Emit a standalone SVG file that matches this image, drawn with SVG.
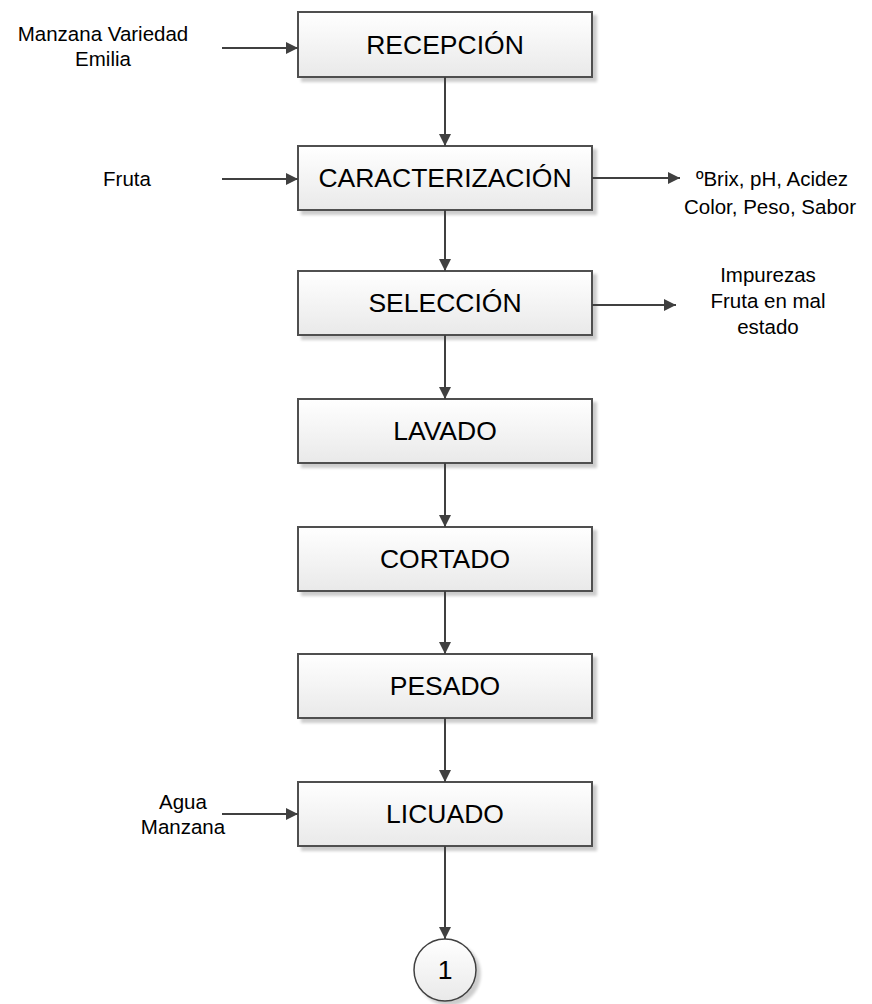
<svg xmlns="http://www.w3.org/2000/svg" width="872" height="1004" viewBox="0 0 872 1004">
  <defs>
    <linearGradient id="boxFill" x1="0" y1="0" x2="0" y2="1">
      <stop offset="0" stop-color="#ffffff"/>
      <stop offset="1" stop-color="#e9e9e9"/>
    </linearGradient>
    <filter id="shadow" x="-10%" y="-10%" width="130%" height="140%">
      <feGaussianBlur in="SourceAlpha" stdDeviation="1.5"/>
      <feOffset dx="4" dy="4" result="off"/>
      <feComponentTransfer><feFuncA type="linear" slope="0.2"/></feComponentTransfer>
      <feMerge><feMergeNode/><feMergeNode in="SourceGraphic"/></feMerge>
    </filter>
    <marker id="arrow" viewBox="0 0 12 12" refX="12" refY="6" markerWidth="12" markerHeight="12" markerUnits="userSpaceOnUse" orient="auto">
      <path d="M0,0 L12,6 L0,12 z" fill="#404040"/>
    </marker>
    <style>
      .box { fill: url(#boxFill); stroke: #505050; stroke-width: 2; filter: url(#shadow); }
      .step { font-family: "Liberation Sans", Arial, sans-serif; font-size: 26.5px; fill: #000; text-anchor: middle; }
      .side { font-family: "Liberation Sans", Arial, sans-serif; font-size: 20.5px; fill: #000; text-anchor: middle; }
      .flow { stroke: #404040; stroke-width: 2; fill: none; marker-end: url(#arrow); }
    </style>
  </defs>

  <rect width="872" height="1004" fill="#ffffff"/>

  <!-- process steps -->
  <g id="recepcion">
    <rect class="box" x="298" y="12" width="294" height="65"/>
    <text class="step" x="445" y="54">RECEPCIÓN</text>
  </g>
  <g id="caracterizacion">
    <rect class="box" x="298" y="146" width="294" height="64"/>
    <text class="step" x="445" y="187">CARACTERIZACIÓN</text>
  </g>
  <g id="seleccion">
    <rect class="box" x="298" y="271" width="294" height="64"/>
    <text class="step" x="445" y="312">SELECCIÓN</text>
  </g>
  <g id="lavado">
    <rect class="box" x="298" y="399" width="294" height="64"/>
    <text class="step" x="445" y="440">LAVADO</text>
  </g>
  <g id="cortado">
    <rect class="box" x="298" y="527" width="294" height="64"/>
    <text class="step" x="445" y="568">CORTADO</text>
  </g>
  <g id="pesado">
    <rect class="box" x="298" y="654" width="294" height="64"/>
    <text class="step" x="445" y="695">PESADO</text>
  </g>
  <g id="licuado">
    <rect class="box" x="298" y="782" width="294" height="64"/>
    <text class="step" x="445" y="823">LICUADO</text>
  </g>
  <g id="conector-1">
    <circle cx="445" cy="970" r="31" fill="url(#boxFill)" stroke="#404040" stroke-width="1.5" filter="url(#shadow)"/>
    <text class="step" x="445" y="979">1</text>
  </g>

  <!-- inputs and outputs -->
  <g id="in-manzana">
    <text class="side" x="103" y="41">Manzana Variedad</text>
    <text class="side" x="103" y="66">Emilia</text>
  </g>
  <g id="in-fruta">
    <text class="side" x="127" y="186">Fruta</text>
  </g>
  <g id="out-parametros">
    <text class="side" x="772" y="186">ºBrix, pH, Acidez</text>
    <text class="side" x="770" y="214">Color, Peso, Sabor</text>
  </g>
  <g id="out-impurezas">
    <text class="side" x="768" y="282">Impurezas</text>
    <text class="side" x="768" y="308">Fruta en mal</text>
    <text class="side" x="768" y="334">estado</text>
  </g>
  <g id="in-agua">
    <text class="side" x="183" y="809">Agua</text>
    <text class="side" x="183" y="834">Manzana</text>
  </g>

  <!-- connectors -->
  <g id="connectors">
    <line class="flow" x1="222" y1="48" x2="298" y2="48"/>
    <line class="flow" x1="445" y1="77" x2="445" y2="146"/>
    <line class="flow" x1="222" y1="179" x2="298" y2="179"/>
    <line class="flow" x1="592" y1="178" x2="680" y2="178"/>
    <line class="flow" x1="445" y1="210" x2="445" y2="271"/>
    <line class="flow" x1="592" y1="305" x2="676" y2="305"/>
    <line class="flow" x1="445" y1="335" x2="445" y2="399"/>
    <line class="flow" x1="445" y1="463" x2="445" y2="527"/>
    <line class="flow" x1="445" y1="591" x2="445" y2="654"/>
    <line class="flow" x1="445" y1="718" x2="445" y2="782"/>
    <line class="flow" x1="222" y1="814" x2="298" y2="814"/>
    <line class="flow" x1="445" y1="846" x2="445" y2="939"/>
  </g>
</svg>
